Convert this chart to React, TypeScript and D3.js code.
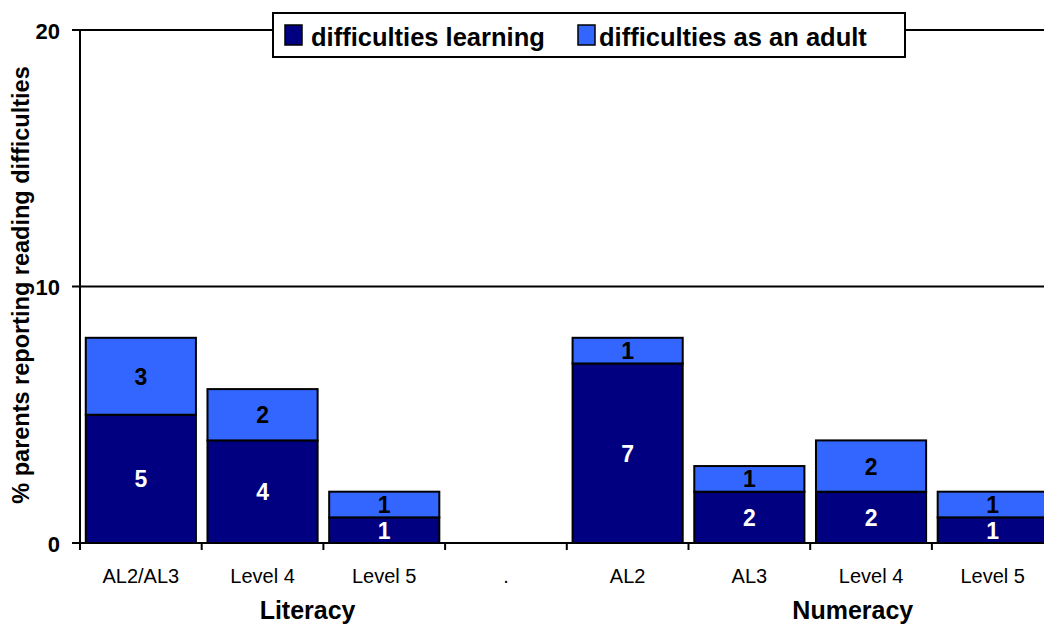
import React from "react";
import * as d3 from "d3";

const categories = ["AL2/AL3", "Level 4", "Level 5", ".", "AL2", "AL3", "Level 4 ", "Level 5 "];
const categoryLabels = ["AL2/AL3", "Level 4", "Level 5", ".", "AL2", "AL3", "Level 4", "Level 5"];
const learning = [5, 4, 1, null, 7, 2, 2, 1];
const adult = [3, 2, 1, null, 1, 1, 2, 1];
const seriesNames = ["difficulties learning", "difficulties as an adult"];
const yTicks = [0, 10, 20];
const groups = [
  { name: "Literacy", pos: 1.87 },
  { name: "Numeracy", pos: 6.35 },
];

const W = 1044;
const H = 628;
const FONT = "'Liberation Sans', Arial, Helvetica, sans-serif";
const DARK = "#000080";
const LIGHT = "#3366FF";

export default function App() {
  const left = 80;
  const step = 121.7;
  const x = d3
    .scaleBand<string>()
    .domain(categories)
    .range([left, left + step * categories.length])
    .padding(0);
  const y = d3.scaleLinear().domain([0, 20]).range([543, 30]);
  const bw = x.bandwidth() * 0.905;
  const right = left + step * categories.length;

  const stacks = categories.map((c, i) => {
    const a = learning[i];
    const b = adult[i];
    const cx = (x(c) as number) + x.bandwidth() / 2;
    return { c, cx, a, b };
  });

  return (
    <div style={{ position: "absolute", left: 0, top: 0 }}>
      <svg width={W} height={H} style={{ display: "block", fontFamily: FONT }}>
        <rect x={0} y={0} width={W} height={H} fill="#fff" />
        {/* gridlines */}
        {yTicks
          .filter((t) => t > 0)
          .map((t) => (
            <line key={t} x1={left} x2={right} y1={y(t)} y2={y(t)} stroke="#000" strokeWidth={2} />
          ))}
        {/* bars */}
        {stacks.map((s, i) =>
          s.a == null ? null : (
            <g key={i}>
              <rect
                x={s.cx - bw / 2}
                y={y(s.a)}
                width={bw}
                height={y(0) - y(s.a)}
                fill={DARK}
                stroke="#000"
                strokeWidth={2}
              />
              <rect
                x={s.cx - bw / 2}
                y={y(s.a + (s.b as number))}
                width={bw}
                height={y(s.a) - y(s.a + (s.b as number))}
                fill={LIGHT}
                stroke="#000"
                strokeWidth={2}
              />
              <text
                x={s.cx}
                y={(y(0) + y(s.a)) / 2 + 8.5}
                textAnchor="middle"
                fontWeight="bold"
                fontSize={23}
                fill="#fff"
              >
                {s.a}
              </text>
              <text
                x={s.cx}
                y={(y(s.a) + y(s.a + (s.b as number))) / 2 + 8.5}
                textAnchor="middle"
                fontWeight="bold"
                fontSize={23}
                fill="#000"
              >
                {s.b}
              </text>
            </g>
          )
        )}
        {/* axes */}
        <line x1={left} x2={left} y1={y(20)} y2={y(0)} stroke="#000" strokeWidth={2} />
        <line x1={left} x2={right} y1={y(0)} y2={y(0)} stroke="#000" strokeWidth={2} />
        {yTicks.map((t) => (
          <g key={t}>
            <line x1={left - 8} x2={left} y1={y(t)} y2={y(t)} stroke="#000" strokeWidth={2} />
            <text x={left - 20} y={y(t) + 8.5} textAnchor="end" fontWeight="bold" fontSize={22}>
              {t}
            </text>
          </g>
        ))}
        {categories.map((c, i) => (
          <g key={c}>
            <line
              x1={x(c) as number}
              x2={x(c) as number}
              y1={y(0)}
              y2={y(0) + 7}
              stroke="#000"
              strokeWidth={2}
            />
            <text
              x={(x(c) as number) + x.bandwidth() / 2}
              y={583}
              textAnchor="middle"
              fontSize={20}
            >
              {categoryLabels[i]}
            </text>
          </g>
        ))}
        {groups.map((g) => (
          <text key={g.name} x={left + step * g.pos} y={619} textAnchor="middle" fontWeight="bold" fontSize={25}>
            {g.name}
          </text>
        ))}
        <text
          transform={`translate(29, 285) rotate(-90)`}
          textAnchor="middle"
          fontWeight="bold"
          fontSize={23.5}
        >
          % parents reporting reading difficulties
        </text>
        {/* legend */}
        <g>
          <rect x={273} y={13} width={632} height={44} fill="#fff" stroke="#000" strokeWidth={2} />
          <rect x={285} y={25} width={17} height={20} fill={DARK} stroke="#000" strokeWidth={1.5} />
          <text x={311} y={46} fontWeight="bold" fontSize={25.5}>
            {seriesNames[0]}
          </text>
          <rect x={578} y={25} width={17} height={20} fill={LIGHT} stroke="#000" strokeWidth={1.5} />
          <text x={599} y={46} fontWeight="bold" fontSize={25.5}>
            {seriesNames[1]}
          </text>
        </g>
      </svg>
    </div>
  );
}
